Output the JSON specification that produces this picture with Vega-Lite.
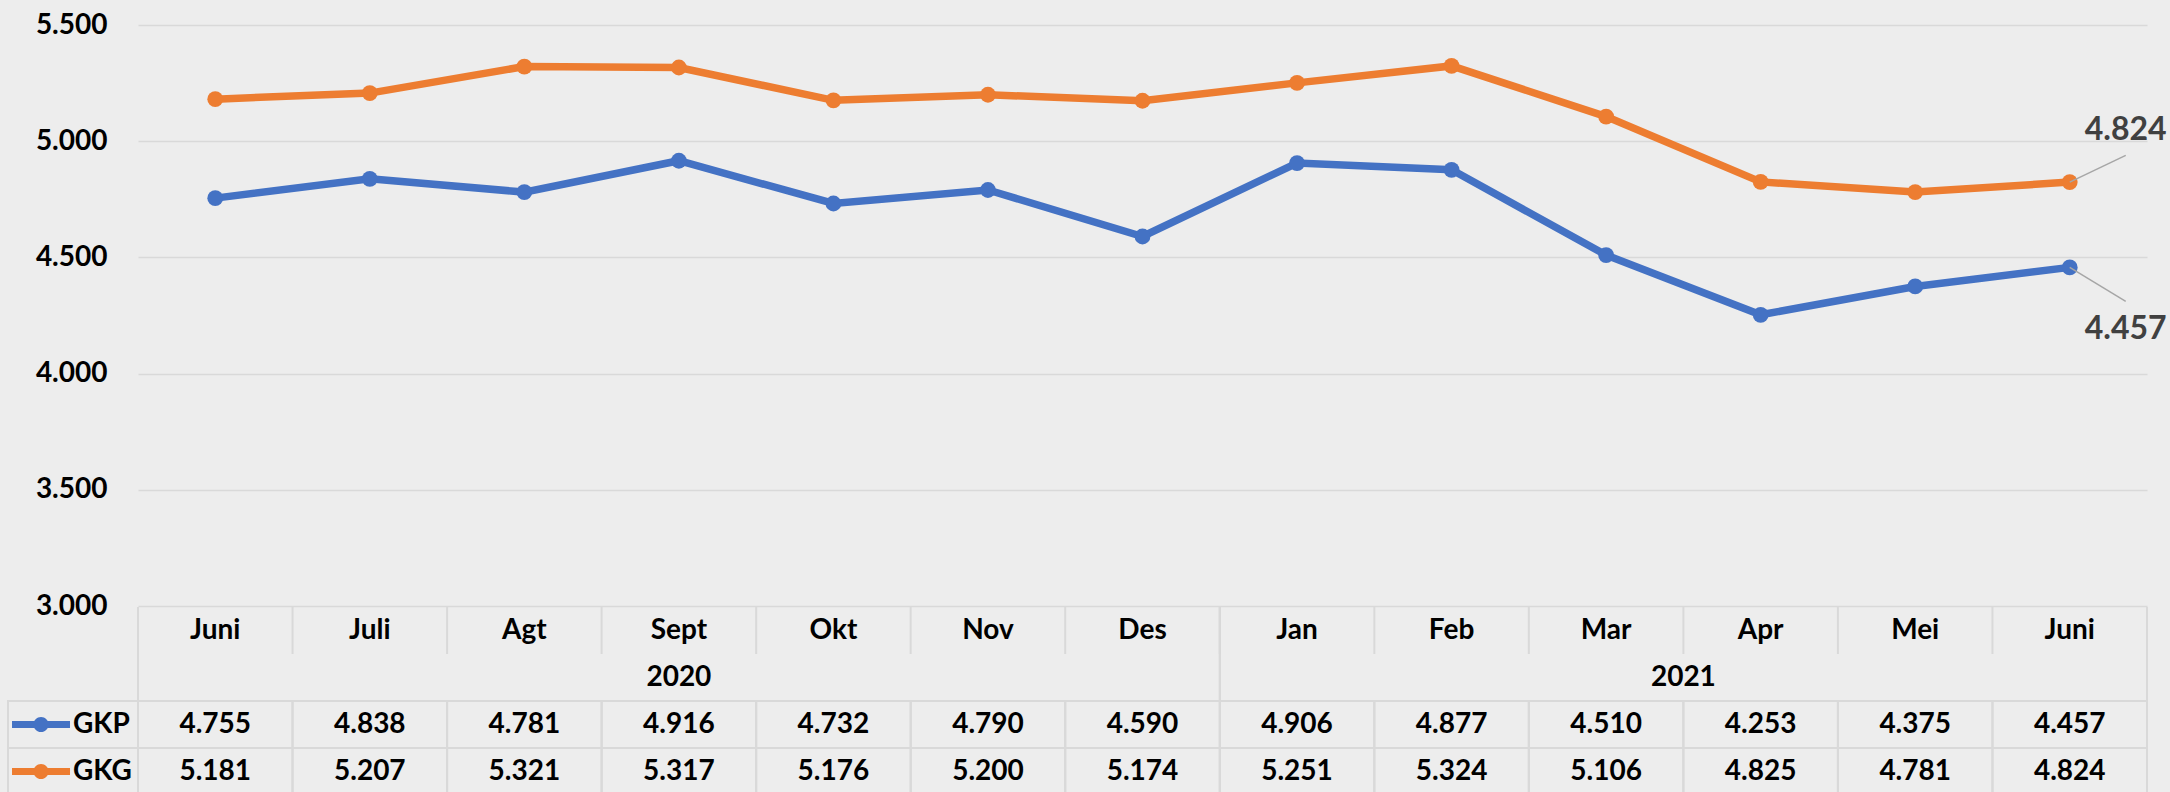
{
  "$schema": "https://vega.github.io/schema/vega-lite/v6.json",
  "width": 2009,
  "height": 792,
  "autosize": {"type": "none"},
  "padding": {"left": 138, "right": 23, "top": 0, "bottom": 0},
  "background": "#EDEDED",
  "config": {
    "view": {"stroke": null},
    "locale": {"number": {"decimal": ",", "thousands": ".", "grouping": [3], "currency": ["Rp", ""]}},
    "text": {"font": "Lato", "fontSize": 28, "fontWeight": "bold", "color": "#000000", "baseline": "middle", "align": "center"}
  },
  "datasets": {
    "harga": [
      {"periode": "Juni 2020", "bulan": "Juni", "tahun": "2020", "seri": "GKP", "nilai": 4755},
      {"periode": "Juli 2020", "bulan": "Juli", "tahun": "2020", "seri": "GKP", "nilai": 4838},
      {"periode": "Agt 2020", "bulan": "Agt", "tahun": "2020", "seri": "GKP", "nilai": 4781},
      {"periode": "Sept 2020", "bulan": "Sept", "tahun": "2020", "seri": "GKP", "nilai": 4916},
      {"periode": "Okt 2020", "bulan": "Okt", "tahun": "2020", "seri": "GKP", "nilai": 4732},
      {"periode": "Nov 2020", "bulan": "Nov", "tahun": "2020", "seri": "GKP", "nilai": 4790},
      {"periode": "Des 2020", "bulan": "Des", "tahun": "2020", "seri": "GKP", "nilai": 4590},
      {"periode": "Jan 2021", "bulan": "Jan", "tahun": "2021", "seri": "GKP", "nilai": 4906},
      {"periode": "Feb 2021", "bulan": "Feb", "tahun": "2021", "seri": "GKP", "nilai": 4877},
      {"periode": "Mar 2021", "bulan": "Mar", "tahun": "2021", "seri": "GKP", "nilai": 4510},
      {"periode": "Apr 2021", "bulan": "Apr", "tahun": "2021", "seri": "GKP", "nilai": 4253},
      {"periode": "Mei 2021", "bulan": "Mei", "tahun": "2021", "seri": "GKP", "nilai": 4375},
      {"periode": "Juni 2021", "bulan": "Juni", "tahun": "2021", "seri": "GKP", "nilai": 4457},
      {"periode": "Juni 2020", "bulan": "Juni", "tahun": "2020", "seri": "GKG", "nilai": 5181},
      {"periode": "Juli 2020", "bulan": "Juli", "tahun": "2020", "seri": "GKG", "nilai": 5207},
      {"periode": "Agt 2020", "bulan": "Agt", "tahun": "2020", "seri": "GKG", "nilai": 5321},
      {"periode": "Sept 2020", "bulan": "Sept", "tahun": "2020", "seri": "GKG", "nilai": 5317},
      {"periode": "Okt 2020", "bulan": "Okt", "tahun": "2020", "seri": "GKG", "nilai": 5176},
      {"periode": "Nov 2020", "bulan": "Nov", "tahun": "2020", "seri": "GKG", "nilai": 5200},
      {"periode": "Des 2020", "bulan": "Des", "tahun": "2020", "seri": "GKG", "nilai": 5174},
      {"periode": "Jan 2021", "bulan": "Jan", "tahun": "2021", "seri": "GKG", "nilai": 5251},
      {"periode": "Feb 2021", "bulan": "Feb", "tahun": "2021", "seri": "GKG", "nilai": 5324},
      {"periode": "Mar 2021", "bulan": "Mar", "tahun": "2021", "seri": "GKG", "nilai": 5106},
      {"periode": "Apr 2021", "bulan": "Apr", "tahun": "2021", "seri": "GKG", "nilai": 4825},
      {"periode": "Mei 2021", "bulan": "Mei", "tahun": "2021", "seri": "GKG", "nilai": 4781},
      {"periode": "Juni 2021", "bulan": "Juni", "tahun": "2021", "seri": "GKG", "nilai": 4824}
    ],
    "tahun": [
      {"tahun": "2020", "awal": "Juni 2020", "akhir": "Des 2020", "tengah": "Sept 2020"},
      {"tahun": "2021", "awal": "Jan 2021", "akhir": "Juni 2021", "tengah": "Apr 2021"}
    ],
    "seri": [
      {"seri": "GKP"},
      {"seri": "GKG"}
    ]
  },
  "resolve": {"scale": {"x": "independent", "y": "independent"}},
  "layer": [
    {
      "data": {"name": "harga"},
      "encoding": {
        "x": {"field": "periode", "type": "nominal", "bandPosition": 0.5, "axis": null,
              "scale": {"type": "band", "paddingInner": 0, "paddingOuter": 0,
                        "domain": ["Juni 2020", "Juli 2020", "Agt 2020", "Sept 2020", "Okt 2020", "Nov 2020", "Des 2020", "Jan 2021", "Feb 2021", "Mar 2021", "Apr 2021", "Mei 2021", "Juni 2021"]}},
        "y": {"field": "nilai", "type": "quantitative",
              "scale": {"domain": [3000, 5500], "range": [606, 25], "zero": false, "nice": false},
              "axis": {"values": [3000, 3500, 4000, 4500, 5000, 5500], "labelExpr": "format(datum.value, ',.0f')", "title": null,
                       "labelFont": "Lato", "labelFontSize": 28, "labelFontWeight": "bold", "labelColor": "#000000",
                       "labelPadding": 31, "domain": false, "ticks": false,
                       "grid": true, "gridColor": "#D9D9D9", "gridWidth": 1.5}},
        "color": {"field": "seri", "type": "nominal", "legend": null,
                  "scale": {"domain": ["GKP", "GKG"], "range": ["#4472C4", "#ED7D31"]}}
      },
      "layer": [
        {"mark": {"type": "line", "strokeWidth": 7.5}, "encoding": {"order": {"value": null}}},
        {"mark": {"type": "point", "filled": true, "size": 250, "opacity": 1}},
        {
          "transform": [{"filter": "datum.periode === 'Juni 2021' && datum.seri === 'GKG'"}],
          "mark": {"type": "point", "shape": "M0,0L1,-0.477", "size": 12544, "filled": false, "strokeWidth": 1.5, "opacity": 1},
          "encoding": {"color": {"value": "#A6A6A6"}}
        },
        {
          "transform": [{"filter": "datum.periode === 'Juni 2021' && datum.seri === 'GKP'"}],
          "mark": {"type": "point", "shape": "M0,0L1,0.607", "size": 12544, "filled": false, "strokeWidth": 1.5, "opacity": 1},
          "encoding": {"color": {"value": "#A6A6A6"}}
        },
        {
          "transform": [{"filter": "datum.periode === 'Juni 2021' && datum.seri === 'GKG'"}],
          "mark": {"type": "text", "dx": 56, "dy": -52, "fontSize": 32},
          "encoding": {"text": {"field": "nilai", "type": "quantitative", "format": ","}, "color": {"value": "#404040"}}
        },
        {
          "transform": [{"filter": "datum.periode === 'Juni 2021' && datum.seri === 'GKP'"}],
          "mark": {"type": "text", "dx": 56, "dy": 62, "fontSize": 32},
          "encoding": {"text": {"field": "nilai", "type": "quantitative", "format": ","}, "color": {"value": "#404040"}}
        }
      ]
    },
    {
      "layer": [
        {
          "data": {"name": "harga"},
          "mark": {"type": "rect", "fill": "transparent", "stroke": "#D9D9D9", "strokeWidth": 2},
          "encoding": {
            "x": {"field": "periode", "type": "nominal", "axis": null,
                  "scale": {"type": "band", "paddingInner": 0, "paddingOuter": 0,
                            "domain": ["Juni 2020", "Juli 2020", "Agt 2020", "Sept 2020", "Okt 2020", "Nov 2020", "Des 2020", "Jan 2021", "Feb 2021", "Mar 2021", "Apr 2021", "Mei 2021", "Juni 2021"]}},
            "y": {"field": "seri", "type": "nominal", "axis": null,
                  "scale": {"type": "band", "paddingInner": 0, "paddingOuter": 0, "domain": ["Bulan", "Tahun", "GKP", "GKG"], "range": [607, 795]}}
          }
        },
        {
          "data": {"name": "harga"},
          "transform": [{"filter": "datum.seri === 'GKP'"}],
          "mark": {"type": "point", "shape": "M0,-1L0,1", "size": 2209, "filled": false, "stroke": "#D9D9D9", "strokeWidth": 2, "opacity": 1},
          "encoding": {
            "x": {"field": "periode", "type": "nominal", "bandPosition": 0, "axis": null},
            "y": {"datum": "Bulan", "type": "nominal", "bandPosition": 0.5, "axis": null}
          }
        },
        {
          "data": {"name": "tahun"},
          "mark": {"type": "point", "shape": "M0,-1L0,1", "size": 8836, "filled": false, "stroke": "#D9D9D9", "strokeWidth": 2, "opacity": 1},
          "encoding": {
            "x": {"field": "awal", "type": "nominal", "bandPosition": 0, "axis": null},
            "y": {"datum": "Tahun", "type": "nominal", "bandPosition": 0, "axis": null}
          }
        },
        {
          "data": {"name": "tahun"},
          "mark": {"type": "point", "shape": "M0,-1L0,1", "size": 8836, "filled": false, "stroke": "#D9D9D9", "strokeWidth": 2, "opacity": 1},
          "encoding": {
            "x": {"field": "akhir", "type": "nominal", "bandPosition": 1, "axis": null},
            "y": {"datum": "Tahun", "type": "nominal", "bandPosition": 0, "axis": null}
          }
        },
        {
          "data": {"name": "harga"},
          "transform": [{"filter": "datum.seri === 'GKP'"}],
          "mark": {"type": "text"},
          "encoding": {
            "x": {"field": "periode", "type": "nominal", "bandPosition": 0.5, "axis": null},
            "y": {"datum": "Bulan", "type": "nominal", "bandPosition": 0.5, "axis": null},
            "text": {"field": "bulan"}
          }
        },
        {
          "data": {"name": "tahun"},
          "transform": [{"filter": "datum.tahun === '2020'"}],
          "mark": {"type": "text"},
          "encoding": {
            "x": {"field": "tengah", "type": "nominal", "bandPosition": 0.5, "axis": null},
            "y": {"datum": "Tahun", "type": "nominal", "bandPosition": 0.5, "axis": null},
            "text": {"field": "tahun"}
          }
        },
        {
          "data": {"name": "tahun"},
          "transform": [{"filter": "datum.tahun === '2021'"}],
          "mark": {"type": "text"},
          "encoding": {
            "x": {"field": "tengah", "type": "nominal", "bandPosition": 0, "axis": null},
            "y": {"datum": "Tahun", "type": "nominal", "bandPosition": 0.5, "axis": null},
            "text": {"field": "tahun"}
          }
        },
        {
          "data": {"name": "harga"},
          "mark": {"type": "text"},
          "encoding": {
            "x": {"field": "periode", "type": "nominal", "bandPosition": 0.5, "axis": null},
            "y": {"field": "seri", "type": "nominal", "bandPosition": 0.5, "axis": null},
            "text": {"field": "nilai", "type": "quantitative", "format": ","}
          }
        }
      ]
    },
    {
      "data": {"name": "seri"},
      "layer": [
        {
          "mark": {"type": "rect", "fill": "transparent", "stroke": "#D9D9D9", "strokeWidth": 2},
          "encoding": {
            "x": {"datum": "legenda", "type": "nominal", "axis": null,
                  "scale": {"type": "band", "domain": ["legenda"], "range": [-130, 0], "paddingInner": 0, "paddingOuter": 0}},
            "y": {"field": "seri", "type": "nominal", "axis": null,
                  "scale": {"type": "band", "paddingInner": 0, "paddingOuter": 0, "domain": ["Bulan", "Tahun", "GKP", "GKG"], "range": [607, 795]}}
          }
        },
        {
          "mark": {"type": "point", "shape": "M-1,-0.12H1V0.12H-1Z M-0.26,0A0.26,0.26 0 0,1 0.26,0A0.26,0.26 0 0,1 -0.26,0Z", "size": 3364, "filled": true, "opacity": 1},
          "encoding": {
            "x": {"datum": "legenda", "type": "nominal", "bandPosition": 0.254, "axis": null},
            "y": {"field": "seri", "type": "nominal", "bandPosition": 0.5, "axis": null},
            "color": {"field": "seri", "type": "nominal", "legend": null,
                      "scale": {"domain": ["GKP", "GKG"], "range": ["#4472C4", "#ED7D31"]}}
          }
        },
        {
          "mark": {"type": "text", "align": "left"},
          "encoding": {
            "x": {"datum": "legenda", "type": "nominal", "bandPosition": 0.5, "axis": null},
            "y": {"field": "seri", "type": "nominal", "bandPosition": 0.5, "axis": null},
            "text": {"field": "seri"}
          }
        }
      ]
    }
  ]
}
